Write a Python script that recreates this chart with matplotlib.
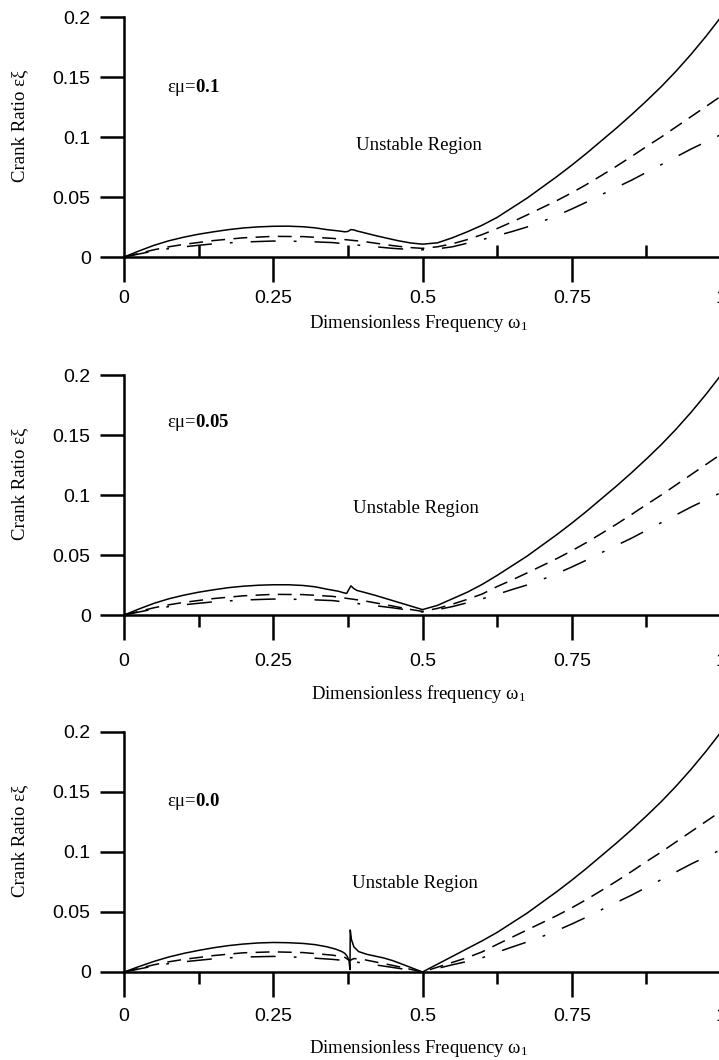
import matplotlib
matplotlib.use('Agg')
import matplotlib.pyplot as plt

plt.rcParams['font.family'] = ['Liberation Sans', 'DejaVu Sans']
plt.rcParams['mathtext.fontset'] = 'custom'
plt.rcParams['mathtext.rm'] = 'Liberation Serif'
plt.rcParams['mathtext.it'] = 'Liberation Serif:italic'
plt.rcParams['mathtext.bf'] = 'Liberation Serif:bold'
plt.rcParams['lines.scale_dashes'] = False

# ---------------- data ----------------
x_ticks = [0, 0.25, 0.5, 0.75, 1.0]
x_tick_labels = ['0', '0.25', '0.5', '0.75', '1']
x_minor = [0.125, 0.375, 0.625, 0.875]
y_ticks = [0, 0.05, 0.1, 0.15, 0.2]
y_tick_labels = ['0', '0.05', '0.1', '0.15', '0.2']

# x grid for dashed / dash-dot curves of panels 1 and 2
x_lines = [0, 0.025, 0.05, 0.075, 0.1, 0.15, 0.2, 0.25, 0.3, 0.35, 0.4, 0.45,
           0.475, 0.5, 0.525, 0.55, 0.575, 0.6, 0.625, 0.65, 0.675, 0.7, 0.725,
           0.75, 0.775, 0.8, 0.825, 0.85, 0.875, 0.9, 0.925, 0.95, 0.975, 1.0]

# ---- panel 1 : eps*mu = 0.1
x1_solid = [0, 0.025, 0.05, 0.075, 0.1, 0.125, 0.15, 0.175, 0.2, 0.225, 0.25,
            0.275, 0.3, 0.32, 0.34, 0.36, 0.37, 0.375, 0.38, 0.385, 0.39, 0.4,
            0.42, 0.44, 0.46, 0.48, 0.5, 0.525, 0.55, 0.575, 0.6, 0.625, 0.65,
            0.675, 0.7, 0.725, 0.75, 0.775, 0.8, 0.825, 0.85, 0.875, 0.9, 0.925,
            0.95, 0.975, 1.0]
y1_solid = [0, 0.005, 0.0097, 0.0135, 0.0165, 0.019, 0.021, 0.0228, 0.0242,
            0.0251, 0.0256, 0.0257, 0.0252, 0.0243, 0.0228, 0.0217, 0.021, 0.0213,
            0.0228, 0.0226, 0.0217, 0.0205, 0.018, 0.0157, 0.0135, 0.0117, 0.0107,
            0.0118, 0.016, 0.021, 0.0265, 0.033, 0.041, 0.049, 0.058, 0.067,
            0.0765, 0.0865, 0.097, 0.1075, 0.1185, 0.130, 0.142, 0.155, 0.169,
            0.184, 0.2]
y1_dash = [0, 0.003, 0.006, 0.0085, 0.0105, 0.0137, 0.016, 0.0172, 0.017, 0.0155,
           0.013, 0.0095, 0.008, 0.0072, 0.0085, 0.011, 0.0145, 0.0187, 0.0237,
           0.0292, 0.035, 0.041, 0.047, 0.0535, 0.0605, 0.068, 0.0757, 0.0837,
           0.092, 0.100, 0.1085, 0.117, 0.1255, 0.134]
y1_dashdot = [0, 0.0025, 0.005, 0.007, 0.0085, 0.011, 0.0125, 0.0133, 0.013,
              0.012, 0.0095, 0.0072, 0.0064, 0.006, 0.0068, 0.0085, 0.0115, 0.0145,
              0.0178, 0.0212, 0.025, 0.0295, 0.0345, 0.040, 0.0458, 0.052, 0.058,
              0.064, 0.0705, 0.077, 0.0835, 0.090, 0.096, 0.102]

# ---- panel 2 : eps*mu = 0.05
x2_solid = [0, 0.025, 0.05, 0.075, 0.1, 0.125, 0.15, 0.175, 0.2, 0.225, 0.25,
            0.275, 0.3, 0.32, 0.34, 0.36, 0.368, 0.373, 0.38, 0.385, 0.39, 0.4,
            0.42, 0.44, 0.46, 0.48, 0.5, 0.525, 0.55, 0.575, 0.6, 0.625, 0.65,
            0.675, 0.7, 0.725, 0.75, 0.775, 0.8, 0.825, 0.85, 0.875, 0.9, 0.925,
            0.95, 0.975, 1.0]
y2_solid = [0, 0.005, 0.0097, 0.0135, 0.0165, 0.019, 0.021, 0.0228, 0.024,
            0.0248, 0.0252, 0.0252, 0.0246, 0.0235, 0.0215, 0.0197, 0.0185, 0.018,
            0.0243, 0.022, 0.0205, 0.0192, 0.0165, 0.0135, 0.0105, 0.0075, 0.0045,
            0.008, 0.0135, 0.019, 0.0255, 0.033, 0.041, 0.049, 0.058, 0.067,
            0.0765, 0.0865, 0.097, 0.1075, 0.1185, 0.130, 0.142, 0.155, 0.169,
            0.184, 0.2]
y2_dash = [0, 0.003, 0.006, 0.0085, 0.0105, 0.0137, 0.016, 0.0172, 0.017, 0.0155,
           0.012, 0.0075, 0.005, 0.003, 0.0055, 0.009, 0.013, 0.0175, 0.0237,
           0.0292, 0.035, 0.041, 0.047, 0.0535, 0.0605, 0.068, 0.0757, 0.0837,
           0.092, 0.100, 0.1085, 0.117, 0.1255, 0.134]
y2_dashdot = [0, 0.0025, 0.005, 0.007, 0.0085, 0.011, 0.0125, 0.0133, 0.013,
              0.012, 0.009, 0.006, 0.0042, 0.0025, 0.0045, 0.007, 0.0102, 0.0135,
              0.0172, 0.0212, 0.025, 0.0295, 0.0345, 0.040, 0.0458, 0.052, 0.058,
              0.064, 0.0705, 0.077, 0.0835, 0.090, 0.096, 0.102]

# ---- panel 3 : eps*mu = 0.0
x3_solid = [0, 0.025, 0.05, 0.075, 0.1, 0.125, 0.15, 0.175, 0.2, 0.225, 0.25,
            0.275, 0.3, 0.32, 0.34, 0.355, 0.365, 0.37, 0.374, 0.377, 0.3785,
            0.379, 0.381, 0.385, 0.393, 0.407, 0.435, 0.45, 0.475, 0.5, 0.525,
            0.55, 0.575, 0.6, 0.625, 0.65, 0.675, 0.7, 0.725, 0.75, 0.775, 0.8,
            0.825, 0.85, 0.875, 0.9, 0.925, 0.95, 0.975, 1.0]
y3_solid = [0, 0.0045, 0.0088, 0.0125, 0.0155, 0.018, 0.0202, 0.022, 0.0233,
            0.0242, 0.0246, 0.0244, 0.0238, 0.0228, 0.021, 0.019, 0.017, 0.0155,
            0.013, 0.009, 0.002, 0.035, 0.027, 0.021, 0.017, 0.0147, 0.0117,
            0.0095, 0.0048, 0, 0.0065, 0.013, 0.0195, 0.026, 0.033, 0.041, 0.049,
            0.058, 0.067, 0.0765, 0.0865, 0.097, 0.1075, 0.1185, 0.130, 0.142,
            0.155, 0.169, 0.184, 0.2]
x3_lines = [0, 0.025, 0.05, 0.075, 0.1, 0.15, 0.2, 0.25, 0.3, 0.35, 0.37, 0.378,
            0.385, 0.4, 0.45, 0.475, 0.5, 0.525, 0.55, 0.575, 0.6, 0.625, 0.65,
            0.675, 0.7, 0.725, 0.75, 0.775, 0.8, 0.825, 0.85, 0.875, 0.9, 0.925,
            0.95, 0.975, 1.0]
y3_dash = [0, 0.003, 0.006, 0.0085, 0.0105, 0.0137, 0.016, 0.0168, 0.0162,
           0.014, 0.0122, 0.0095, 0.0112, 0.0105, 0.0055, 0.0028, 0, 0.004, 0.008,
           0.012, 0.0168, 0.0230, 0.0290, 0.035, 0.041, 0.047, 0.0535, 0.0605,
           0.068, 0.0757, 0.0837, 0.092, 0.100, 0.1085, 0.117, 0.1255, 0.134]
y3_dashdot = [0, 0.0025, 0.005, 0.007, 0.0085, 0.011, 0.0125, 0.013, 0.0122,
              0.0105, 0.0095, 0.008, 0.0085, 0.0075, 0.0038, 0.0019, 0, 0.003,
              0.006, 0.0088, 0.0118, 0.0165, 0.0208, 0.025, 0.0295, 0.0345, 0.040,
              0.0458, 0.052, 0.058, 0.064, 0.0705, 0.077, 0.0835, 0.090, 0.096,
              0.102]

panel_titles = [r'εμ=$\mathbf{0.1}$', r'εμ=$\mathbf{0.05}$', r'εμ=$\mathbf{0.0}$']
x_labels = ['Dimensionless Frequency ω$_1$', 'Dimensionless frequency ω$_1$',
            'Dimensionless Frequency ω$_1$']
y_label = 'Crank Ratio εξ'
region_label = 'Unstable Region'

# ---------------- layout ----------------
W, H = 719, 1060
fig = plt.figure(figsize=(W / 100, H / 100), dpi=100)

panels = [
    dict(top=17, bottom=257, xs=x1_solid, ys=y1_solid, xl=x_lines, yd=y1_dash,
         ydd=y1_dashdot, minor_dir='in', title_y=0.1375, region_xy=(0.389, 0.089),
         xlabel_y=-0.235, pad=6),
    dict(top=375, bottom=615, xs=x2_solid, ys=y2_solid, xl=x_lines, yd=y2_dash,
         ydd=y2_dashdot, minor_dir='out', title_y=0.157, region_xy=(0.383, 0.085),
         xlabel_y=-0.283, pad=9.5),
    dict(top=732, bottom=972, xs=x3_solid, ys=y3_solid, xl=x3_lines, yd=y3_dash,
         ydd=y3_dashdot, minor_dir='out', title_y=0.138, region_xy=(0.382, 0.070),
         xlabel_y=-0.275, pad=8),
]

left_px, right_px = 124, 721
serif = 'Liberation Serif'

for i, p in enumerate(panels):
    ax = fig.add_axes([left_px / W, 1 - p['bottom'] / H, (right_px - left_px) / W,
                       (p['bottom'] - p['top']) / H])
    ax.plot(p['xs'], p['ys'], color='black', lw=1.1)
    ax.plot(p['xl'], p['yd'], color='black', lw=1.1, dashes=(10, 6))
    ax.plot(p['xl'], p['ydd'], color='black', lw=1.1, dashes=(18, 13, 2, 13))

    ax.set_xlim(0, 1)
    ax.set_ylim(0, 0.2)
    for s in ['top', 'right']:
        ax.spines[s].set_visible(False)
    for s in ['left', 'bottom']:
        ax.spines[s].set_linewidth(1.8)

    ax.set_xticks(x_ticks)
    ax.set_xticklabels(x_tick_labels)
    ax.set_xticks(x_minor, minor=True)
    ax.set_yticks(y_ticks)
    ax.set_yticklabels(y_tick_labels)
    ax.tick_params(axis='x', which='major', direction='out', length=18, width=1.8,
                   pad=p['pad'], labelsize=14)
    ax.tick_params(axis='x', which='minor', direction=p['minor_dir'], length=8.6,
                   width=1.8)
    ax.tick_params(axis='y', which='major', direction='out', length=17, width=1.8,
                   pad=7, labelsize=14)
    ax.tick_params(axis='y', which='minor', left=False)

    ax.set_ylabel(y_label, fontfamily=serif, fontsize=13.5)
    ax.yaxis.set_label_coords(-0.16, 0.545)
    ax.set_xlabel(x_labels[i], fontfamily=serif, fontsize=13.5, va='top')
    ax.xaxis.set_label_coords(0.493, p['xlabel_y'])

    ax.text(0.072, p['title_y'], panel_titles[i], fontfamily=serif, fontsize=13.5,
            ha='left', va='baseline')
    ax.text(p['region_xy'][0], p['region_xy'][1], region_label, fontfamily=serif,
            fontsize=13.5, ha='left', va='baseline')

fig.savefig('out.png', dpi=100)
